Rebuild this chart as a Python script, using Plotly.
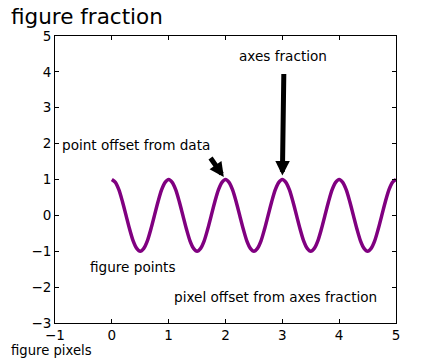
import plotly.graph_objects as go

t = [i / 16 for i in range(81)]
period_vals = [1.0, 0.92, 0.71, 0.38, 0.0, -0.38, -0.71, -0.92,
               -1.0, -0.92, -0.71, -0.38, 0.0, 0.38, 0.71, 0.92]
s = [period_vals[i % 16] for i in range(81)]

x_ticks = [-1, 0, 1, 2, 3, 4, 5]
y_ticks = [-3, -2, -1, 0, 1, 2, 3, 4, 5]

W, H = 440, 360
L, R, T, B = 55, 396, 36, 323

def px(xp):
    return (xp - L) / (R - L)

def py(yp):
    return (B - yp) / (B - T)

FONT = "DejaVu Sans"

fig = go.Figure()
fig.add_trace(go.Scatter(x=t, y=s, mode="lines",
                         line=dict(color="#800080", width=3.5, shape="spline", smoothing=0.8),
                         hoverinfo="skip"))

texts = [
    ("figure fraction", 9, 16.5, "left", 21.5),
    ("axes fraction", 283, 56, "center", 13.6),
    ("point offset from data", 60, 145, "left", 13.6),
    ("figure points", 88, 267, "left", 13.6),
    ("pixel offset from axes fraction", 172, 297, "left", 13.6),
    ("figure pixels", 9, 350.5, "left", 13.2),
]
ann = []
for txt, xp, yp, xa, fs in texts:
    ann.append(dict(text=txt, xref="paper", yref="paper", x=px(xp), y=py(yp),
                    xanchor=xa, yanchor="middle", showarrow=False,
                    font=dict(family=FONT, size=fs, color="black")))

# arrows (tip at data points, tails offset in pixels)
arrows = [(3, 1, 1.5, -107, 4), (2, 1, -16, -23, 3)]
for xd, yd, axo, ayo, so in arrows:
    ann.append(dict(text="", x=xd, y=yd, xref="x", yref="y", ax=axo, ay=ayo,
                    showarrow=True, arrowhead=2, arrowsize=0.58, arrowwidth=5,
                    arrowcolor="black", standoff=so))

axis_common = dict(showline=True, linecolor="black", linewidth=1, mirror="ticks",
                   ticks="inside", ticklen=4, tickcolor="black", tickwidth=1,
                   showgrid=False, zeroline=False,
                   tickfont=dict(family=FONT, size=13.5, color="black"))

fig.update_layout(
    width=W, height=H,
    margin=dict(l=L, r=W - R, t=T, b=H - B),
    paper_bgcolor="white", plot_bgcolor="white",
    showlegend=False,
    xaxis=dict(range=[-1, 5], tickvals=x_ticks, ticktext=[("\u2212" + str(-v)) if v < 0 else str(v) for v in x_ticks], **axis_common),
    yaxis=dict(range=[-3, 5], tickvals=y_ticks, ticktext=[("\u2212" + str(-v)) if v < 0 else str(v) for v in y_ticks], **axis_common),
    annotations=ann,
)
fig.write_html("out.html")
